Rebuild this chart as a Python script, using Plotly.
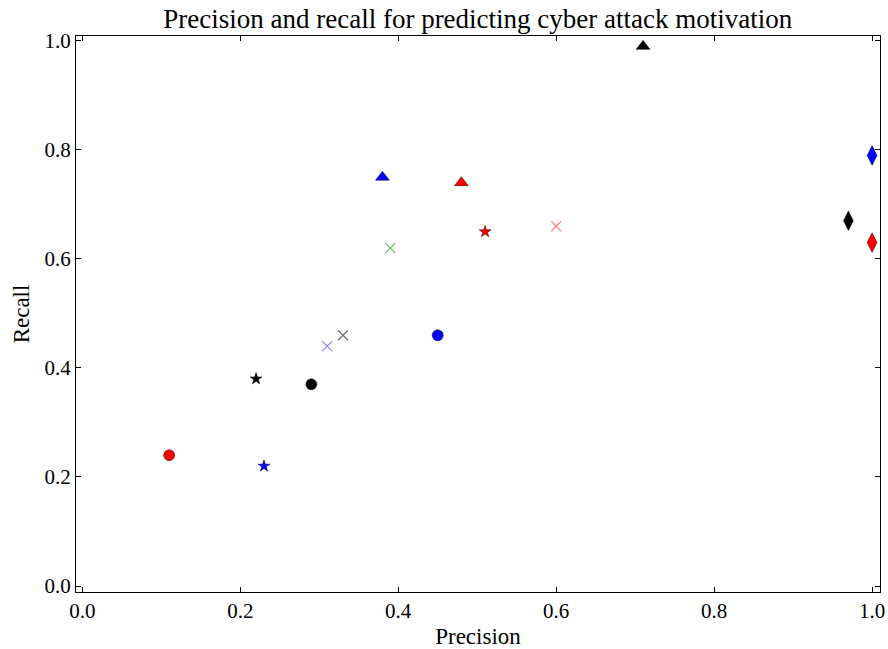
import plotly.graph_objects as go

# Data
precision = [0.11, 0.23, 0.22, 0.29, 0.31, 0.33, 0.45, 0.39, 0.38, 0.48, 0.51, 0.60, 0.71, 1.00, 0.97, 1.00]
recall    = [0.24, 0.22, 0.38, 0.37, 0.44, 0.46, 0.46, 0.62, 0.75, 0.74, 0.65, 0.66, 0.99, 0.79, 0.67, 0.63]
symbols   = ["circle", "star", "star", "circle", "x-thin-open", "x-thin-open", "circle", "x-thin-open",
             "triangle-up", "triangle-up", "star", "x-thin-open", "triangle-up", "diamond-tall", "diamond-tall", "diamond-tall"]
colors    = ["#ff0000", "#0000ff", "#000000", "#000000", "rgba(0,0,255,0.5)", "rgba(0,0,0,0.6)", "#0000ff",
             "rgba(0,128,0,0.6)", "#0000ff", "#ff0000", "#ff0000", "rgba(255,0,0,0.5)", "#000000",
             "#0000ff", "#000000", "#ff0000"]

size_map = {"circle": 11, "star": 9, "x-thin-open": 10, "triangle-up": 12, "diamond-tall": 14}

fig = go.Figure()
for x, y, s, c in zip(precision, recall, symbols, colors):
    if s == "x-thin-open":
        marker = dict(symbol=s, size=size_map[s], color=c, line=dict(color=c, width=1.1))
    else:
        marker = dict(symbol=s, size=size_map[s], color=c, line=dict(color="rgba(0,0,0,0.8)", width=0.6))
    fig.add_trace(go.Scatter(x=[x], y=[y], mode="markers", marker=marker, showlegend=False))

font_family = "Liberation Serif, Times New Roman, serif"
axis_common = dict(
    showgrid=False, zeroline=False, showline=True, linecolor="black", linewidth=1.3,
    mirror="ticks", ticks="inside", ticklen=5, tickwidth=1, tickcolor="black",
    tickformat=".1f", dtick=0.2, tick0=0, automargin=False,
    tickfont=dict(family=font_family, size=21, color="black"),
)

fig.update_layout(
    width=888, height=649,
    margin=dict(l=76, r=8, t=36, b=57, autoexpand=False),
    paper_bgcolor="white", plot_bgcolor="white",
    title=dict(text="Precision and recall for predicting cyber attack motivation",
               font=dict(family=font_family, size=27, color="black"),
               x=0.538, xanchor="center", y=0.986, yanchor="top"),
    xaxis=dict(range=[-0.008, 1.01],
               title=dict(text="Precision", font=dict(family=font_family, size=23, color="black"), standoff=6),
               **axis_common),
    yaxis=dict(range=[-0.011, 1.009],
               title=dict(text="Recall", font=dict(family=font_family, size=23, color="black"), standoff=8),
               **axis_common),
)

fig.write_html("out.html")
